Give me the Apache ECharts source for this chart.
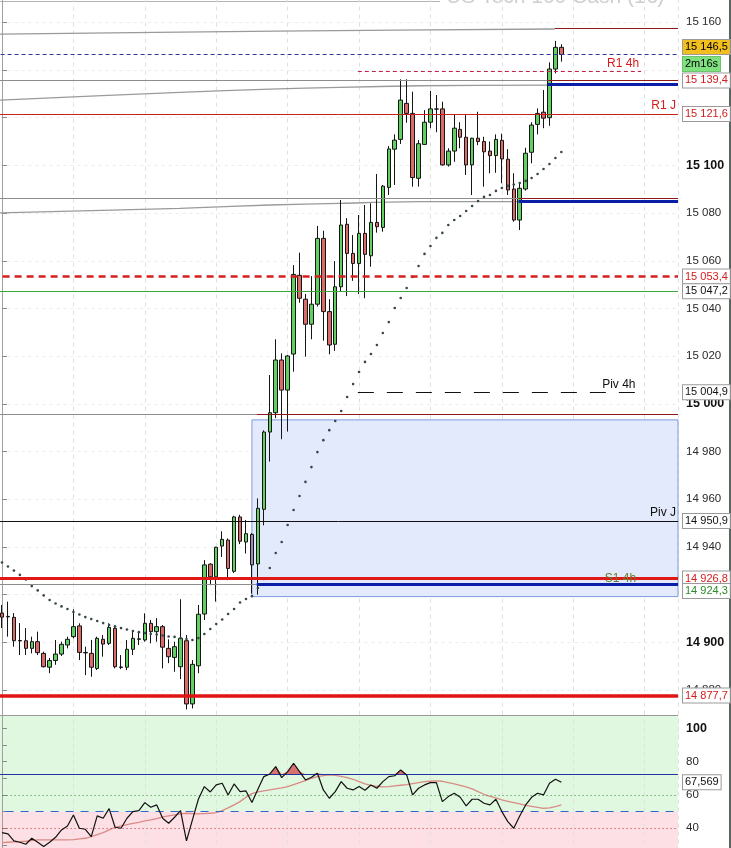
<!DOCTYPE html>
<html><head><meta charset="utf-8">
<script src="https://cdn.jsdelivr.net/npm/echarts@6/dist/echarts.min.js"></script>
<style>html,body{margin:0;padding:0;background:#fff;overflow:hidden}#c{width:731px;height:848px}</style>
</head><body><div id="c"></div>
<script>
// ---- data ----
const opens = [14912.3,14910.9,14910.5,14900.8,14900.7,14897.5,14900.3,14895.4,14889.6,14892.4,
14895.1,14898.9,14902.4,14906.9,14895.8,14895.4,14889.1,14901.3,14899.6,14905.9,
14889.7,14889.6,14897.1,14901.3,14901.0,14908.0,14904.5,14906.6,14897.5,14893.7,
14889.8,14900.7,14874.2,14890.2,14911.9,14932.8,14927.5,14940.4,14942.9,14929.8,
14952.6,14942.1,14945.3,14932.9,14955.8,14988.2,14996.3,15018.4,15005.8,15020.9,
15053.9,15043.9,15033.4,15041.8,15069.4,15038.7,15025.0,15049.1,15075.3,15063.1,
15058.9,15071.5,15062.1,15076.1,15074.0,15090.8,15106.8,15110.9,15126.0,15121.8,
15094.6,15108.8,15118.1,15123.7,15123.7,15100.2,15106.0,15115.1,15111.8,15100.2,
15111.4,15110.0,15106.0,15104.1,15110.5,15102.6,15090.1,15077.1,15090.1,15105.5,
15117.2,15122.3,15120.0,15140.4,15149.5];
const closes = [14910.6,14910.7,14900.7,14900.6,14897.5,14900.3,14895.7,14889.8,14892.4,14895.1,
14899.2,14901.3,14906.6,14895.8,14895.6,14889.6,14901.7,14899.3,14906.3,14889.8,
14889.5,14897.1,14901.7,14901.5,14908.0,14904.5,14906.6,14898.0,14894.0,14898.2,
14901.7,14874.2,14890.8,14911.8,14932.5,14927.5,14939.9,14943.2,14931.0,14952.6,
14942.4,14945.6,14932.5,14956.2,14988.2,14996.3,15018.4,15005.8,15020.1,15054.3,
15044.3,15033.4,15041.8,15069.4,15038.7,15024.7,15049.1,15075.0,15063.1,15058.9,
15071.5,15062.7,15076.1,15074.3,15091.3,15106.9,15110.6,15127.4,15121.8,15094.9,
15109.1,15118.1,15123.7,15123.6,15100.2,15106.0,15115.6,15111.8,15100.2,15111.4,
15110.0,15105.7,15104.1,15110.9,15102.7,15089.7,15077.1,15090.4,15105.1,15116.9,
15121.8,15119.8,15140.4,15149.5,15146.5];
const lows = [14906.0,14902.4,14898.2,14894.7,14894.7,14895.4,14894.7,14889.5,14887.1,14890.6,
14894.3,14897.5,14901.7,14892.6,14886.3,14885.6,14888.4,14894.0,14898.9,14889.1,
14888.8,14888.4,14894.7,14898.9,14900.3,14899.6,14900.3,14889.1,14891.3,14887.7,
14884.6,14871.9,14872.3,14887.1,14909.4,14924.0,14917.1,14935.8,14926.1,14929.1,
14941.2,14937.3,14920.5,14920.0,14949.1,14975.8,14994.0,14985.2,14988.4,15013.5,
15042.4,15019.8,15027.1,15040.8,15026.5,15020.8,15022.2,15047.3,15045.2,15051.6,
15046.1,15044.3,15057.5,15071.8,15072.2,15087.6,15091.8,15109.0,15117.9,15091.1,
15091.1,15108.6,15115.6,15113.9,15099.9,15099.5,15101.5,15107.2,15096.0,15087.6,
15108.5,15091.1,15096.7,15096.9,15092.5,15087.6,15076.4,15072.9,15089.4,15100.9,
15113.0,15115.6,15116.6,15138.6,15143.5];
const highs = [14915.7,14917.1,14912.3,14908.1,14906.0,14902.4,14904.5,14896.1,14893.5,14901.0,
14900.3,14902.4,14913.9,14908.0,14898.2,14901.0,14902.4,14903.1,14908.0,14906.6,
14894.7,14901.0,14905.2,14903.9,14912.2,14909.4,14910.2,14907.3,14901.3,14900.3,
14918.1,14903.1,14892.6,14915.7,14934.5,14933.2,14940.1,14946.6,14943.6,14953.1,
14953.5,14951.3,14945.8,14960.4,14988.9,15012.1,15027.1,15021.2,15020.5,15058.2,
15063.4,15046.1,15053.6,15074.6,15072.6,15043.9,15059.9,15085.5,15077.9,15070.8,
15079.2,15083.4,15084.1,15096.4,15091.8,15108.1,15113.0,15136.1,15136.1,15130.9,
15110.6,15123.2,15131.2,15129.5,15126.7,15107.2,15121.4,15118.1,15121.1,15111.6,
15122.5,15112.0,15110.0,15113.0,15113.3,15106.8,15096.7,15092.5,15107.4,15118.1,
15123.9,15131.6,15143.2,15152.2,15150.8];
const maDots = [14933.5,14931.8,14930.1,14928.3,14926.4,14923.6,14921.8,14919.7,14917.8,14916.3,
14915.1,14914.0,14912.7,14911.7,14910.6,14909.8,14909.0,14908.1,14907.3,14906.7,
14906.0,14905.4,14904.8,14904.3,14903.9,14903.5,14903.3,14902.9,14902.5,14902.3,
14901.8,14901.4,14901.0,14901.8,14903.5,14905.6,14907.7,14909.6,14911.9,14914.0,
14916.7,14918.2,14919.4,14922.8,14926.6,14931.2,14937.5,14942.1,14949.2,14955.5,
14961.4,14967.3,14973.5,14979.8,14984.8,14989.0,14992.8,14997.0,15002.9,15008.3,
15013.4,15017.6,15020.9,15024.7,15029.7,15034.3,15040.2,15044.4,15048.6,15053.2,
15057.8,15062.9,15066.2,15069.6,15071.7,15075.0,15077.1,15078.8,15080.9,15083.0,
15085.1,15086.8,15087.6,15089.3,15090.5,15091.4,15092.0,15092.6,15093.5,15094.7,
15096.4,15098.5,15100.6,15103.1,15105.6];
const rsiValues = [37.4,36.6,32.4,31.6,30.4,34.0,31.6,29.0,31.6,34.6,
39.0,41.4,48.0,40.0,39.4,35.0,47.4,46.0,51.8,40.6,
40.0,46.0,50.0,50.6,55.4,52.6,54.0,46.0,43.0,46.6,
50.6,32.4,45.0,57.4,65.0,61.8,66.0,67.0,60.0,66.6,
62.0,62.4,55.4,63.4,71.0,72.6,77.0,70.4,74.0,79.0,
74.0,69.0,70.6,73.0,63.0,58.0,62.0,68.0,64.0,63.0,
65.0,62.8,66.0,64.0,68.0,71.0,71.5,75.0,72.0,60.0,
64.0,66.0,67.4,67.4,56.0,59.0,61.0,58.6,53.4,57.4,
57.4,55.0,54.0,57.4,50.0,44.0,40.0,47.4,54.0,58.6,
61.0,60.0,67.0,69.4,67.57];
const rsiSignal = [31.4,31.6,31.8,31.9,32.2,32.6,33.0,33.0,33.0,33.0,
33.0,33.0,33.2,33.6,34.0,35.0,36.2,37.4,39.0,40.6,
41.4,42.2,43.0,43.6,44.4,45.0,45.8,46.8,47.4,48.0,
48.6,49.0,48.8,48.6,48.8,49.0,49.4,50.6,52.2,54.0,
56.0,58.6,60.8,61.8,62.4,63.0,63.6,64.2,65.0,66.2,
67.4,68.6,70.0,71.0,71.6,72.0,71.8,71.2,70.4,69.4,
68.0,66.6,65.8,65.2,64.8,65.0,65.4,65.8,66.2,66.8,
67.4,68.0,68.2,68.4,68.2,67.4,66.6,65.8,64.8,63.6,
62.0,60.4,59.2,58.2,57.0,56.2,55.4,54.6,53.8,53.2,
52.6,52.0,52.2,53.0,54.0];
const priceTicks = [14880,14900,14920,14940,14960,14980,15000,15020,15040,15060,15080,15100,15120,15140,15160];
const hiddenPriceLabels = [14920,15120,15140];
const rsiTicks = [30,40,50,60,70,80,90,100];
const rsiLabels = [40,60,80,100];
const tagPrices = [15146.5,15139.4,15121.6,15053.4,15047.2,15004.9,14950.9,14926.8,14924.3,14877.7];
const lastRsi = 67.569;
const timerText = '2m16s';
const rsiOverbought = 72.4;
const topCurve = [[-0.34,15155.0],[46,15156.3],[92.9,15157.2]];
const upperCurve = [[-0.34,15127.4],[29.9,15130.6],[45.0,15132.0],[56.8,15132.7],[70.3,15133.4],[91.8,15133.7]];
const lowerCurve = [[-0.34,15080.1],[29.9,15082.0],[45.0,15083.4],[56.8,15084.1],[70.3,15084.8],[86.7,15084.8]];
const boxRange = [42.0, 14993.3, 14919.2];

// ---- chart ----
const FONT = '"Liberation Sans", Arial, sans-serif';
const X0 = -12, X1 = 113.6;
const GREY = '#8c8c8c', MAROON = '#8b1a1a', BLUE = '#0b1ea8', RED = '#d41c1c';

function fmtPrice(p, d) {
  const s = d ? p.toFixed(d).replace('.', ',') : String(Math.round(p));
  return s.slice(0, 2) + ' ' + s.slice(2);
}
function hline(p, xa, xb, ls, label) {
  return [{coord: [xa, p], lineStyle: ls, label: label || {show: false}}, {coord: [xb, p]}];
}
function tag(p, text, color, bg, dy, border) {
  return hline(p, X0, X1, {color: 'rgba(0,0,0,0)', width: 0}, {
    show: true, position: 'end', distance: 5, formatter: text, color: color,
    backgroundColor: bg || '#fff', borderColor: border || '#9a9a9a', borderWidth: 1,
    padding: [1, 2, 1, 2], fontSize: 11, lineHeight: 12, fontFamily: FONT, offset: [0, dy || 0]
  });
}
function txt(t, color) {
  return {show: true, position: 'insideEndTop', distance: 2, formatter: t, color: color, fontSize: 12, fontFamily: FONT};
}

const tagColors = ['#000', RED, RED, RED, '#111', '#111', '#111', RED, '#2a8a2a', RED];
const tagOffsets = [-7.5, 9, 0, 0, 0, 0, 0, 0, 6.5, 0];

const mainLines = [
  hline(15157.5, 92.9, X1, {color: MAROON, width: 1.2, type: 'solid'}),
  hline(15146.5, X0, X1, {color: '#2b3a9e', width: 1, type: [4, 3]}),
  hline(15139.4, 59.8, 107.4, {color: '#c2264e', width: 1, type: [4, 3]}, txt('R1 4h', RED)),
  hline(15135.6, X0, 91.7, {color: GREY, width: 1.2, type: 'solid'}),
  hline(15135.6, 91.7, X1, {color: MAROON, width: 1.2, type: 'solid'}),
  hline(15133.9, 91.7, X1, {color: BLUE, width: 3, type: 'solid'}),
  hline(15121.6, X0, X1, {color: '#c8201e', width: 1, type: 'solid'}, txt('R1 J', RED)),
  hline(15086.2, X0, 86.8, {color: GREY, width: 1.2, type: 'solid'}),
  hline(15086.2, 86.8, X1, {color: MAROON, width: 1.2, type: 'solid'}),
  hline(15084.8, 86.8, X1, {color: BLUE, width: 3, type: 'solid'}),
  hline(15053.4, X0, X1, {color: '#d42020', width: 2.5, type: [7, 5]}),
  hline(15047.2, X0, X1, {color: '#3aa63a', width: 1, type: 'solid'}),
  hline(15004.9, 59.8, 106.8, {color: '#111', width: 1, type: [16, 13]}, txt('Piv 4h', '#111')),
  hline(14995.6, X0, 42.8, {color: GREY, width: 1, type: 'solid'}),
  hline(14995.6, 42.8, X1, {color: MAROON, width: 1.2, type: 'solid'}),
  hline(14950.9, X0, X1, {color: '#111', width: 1, type: 'solid'}, txt('Piv J', '#111')),
  hline(14924.3, X0, 42.8, {color: GREY, width: 1, type: 'solid'}),
  hline(14924.3, 42.8, X1, {color: BLUE, width: 3, type: 'solid'}),
  hline(14926.8, X0, X1, {color: '#e01818', width: 3, type: 'solid'}),
  hline(14926.8, 59.8, 107.4, {color: 'rgba(0,0,0,0)', width: 0}, {show: true, position: 'insideEnd', formatter: 'S1 4h', color: '#6b7d2a', fontSize: 12, fontFamily: FONT}),
  hline(14877.7, X0, X1, {color: '#e01414', width: 3.5, type: 'solid'})
];
tagPrices.forEach((p, i) => {
  mainLines.push(tag(p, fmtPrice(p, 1), tagColors[i], i === 0 ? '#f2bf1f' : '#fff', tagOffsets[i]));
});
mainLines.push(tag(tagPrices[0], timerText, '#000', '#7fe07f', 9.5, '#6cc46c'));

const candleData = opens.map((o, i) => {
  const v = [i, o, closes[i], lows[i], highs[i]];
  return i === boxRange[0] ? {value: v, itemStyle: {color0: '#a08cb8'}} : v;
});

const chart = echarts.init(document.getElementById('c'), null, {renderer: 'canvas'});
const xCommon = {
  type: 'value', min: X0, max: X1, interval: 12,
  axisLine: {show: false}, axisTick: {show: false}, axisLabel: {show: false},
  splitLine: {show: true, lineStyle: {color: '#e0e0e0', type: [4, 4], width: 1}}
};
const option = {
  animation: false,
  backgroundColor: '#fff',
  textStyle: {fontFamily: FONT},
  grid: [
    {left: -69.4, width: 747.4, top: -25.4, height: 763.2, containLabel: false, outerBoundsMode: 'none'},
    {left: -69.4, width: 747.4, top: 711.6, height: 150, containLabel: false, outerBoundsMode: 'none'}
  ],
  xAxis: [
    Object.assign({gridIndex: 0}, xCommon),
    Object.assign({gridIndex: 1, z: 2}, xCommon)
  ],
  yAxis: [
    {
      gridIndex: 0, type: 'value', position: 'right', min: 14860, max: 15180, interval: 20,
      axisLine: {show: true, lineStyle: {color: '#a0a0a0'}},
      axisTick: {show: true, length: 5, lineStyle: {color: '#8a8a8a'}, customValues: priceTicks},
      axisLabel: {
        margin: 8, fontSize: 11.5, color: '#2a2a2a', fontFamily: FONT,
        customValues: priceTicks.filter(v => hiddenPriceLabels.indexOf(v) < 0),
        formatter: v => {
          if (v < 14870 || v > 15170 || hiddenPriceLabels.indexOf(v) >= 0) return '';
          const s = fmtPrice(v);
          return v % 100 === 0 ? '{b|' + s + '}' : s;
        },
        rich: {b: {fontWeight: 'bold', fontSize: 12.5, color: '#111', fontFamily: FONT}}
      },
      splitLine: {show: true, lineStyle: {color: '#ececec', type: [3, 4]}}
    },
    {
      gridIndex: 1, type: 'value', position: 'right', min: 20, max: 110, interval: 10, z: 2,
      axisLine: {show: true, lineStyle: {color: '#a0a0a0'}},
      axisTick: {show: true, length: 5, lineStyle: {color: '#8a8a8a'}, customValues: rsiTicks},
      axisLabel: {
        margin: 8, fontSize: 11.5, color: '#2a2a2a', fontFamily: FONT, customValues: rsiLabels,
        formatter: v => rsiLabels.indexOf(v) < 0 ? '' : (v === 100 ? '{b|100}' : String(v)),
        rich: {b: {fontWeight: 'bold', fontSize: 12.5, color: '#111', fontFamily: FONT}}
      },
      splitLine: {show: false}
    }
  ],
  graphic: [
    {type: 'text', x: 446, y: -13, silent: true,
     style: {text: 'US Tech 100 Cash (1€)', fill: '#cfcfcf', font: '21px "Liberation Sans", Arial, sans-serif'}},
    {type: 'line', silent: true, shape: {x1: 0, y1: 1.5, x2: 440, y2: 1.5}, style: {stroke: '#b4b4b4', lineWidth: 1}},
    {type: 'rect', silent: true, shape: {x: 729, y: 0, width: 2, height: 848}, style: {fill: '#5b6660'}}
  ],
  series: [
    {
      type: 'line', xAxisIndex: 0, yAxisIndex: 0, data: [], z: 1, silent: true,
      markArea: {silent: true, data: [[
        {coord: [boxRange[0], boxRange[1]], itemStyle: {color: '#e3eafb', borderColor: '#7d9be0', borderWidth: 1}},
        {coord: [X1, boxRange[2]]}
      ]]}
    },
    {
      type: 'line', xAxisIndex: 0, yAxisIndex: 0, data: topCurve, smooth: 0.3, showSymbol: false, symbol: 'none',
      lineStyle: {color: '#9a9a9a', width: 1.3}, z: 2, silent: true
    },
    {
      type: 'line', xAxisIndex: 0, yAxisIndex: 0, data: upperCurve, smooth: 0.3, showSymbol: false, symbol: 'none',
      lineStyle: {color: '#9a9a9a', width: 1.3}, z: 2, silent: true
    },
    {
      type: 'line', xAxisIndex: 0, yAxisIndex: 0, data: lowerCurve, smooth: 0.3, showSymbol: false, symbol: 'none',
      lineStyle: {color: '#9a9a9a', width: 1.3}, z: 2, silent: true
    },
    {
      type: 'candlestick', xAxisIndex: 0, yAxisIndex: 0, data: candleData, clip: false,
      encode: {x: 0, y: [1, 2, 3, 4]}, barWidth: 4, z: 3, silent: true,
      itemStyle: {color: '#62cf62', color0: '#d96b68', borderColor: '#151515', borderColor0: '#151515', borderWidth: 1},
      markLine: {silent: true, symbol: ['none', 'none'], label: {show: false}, data: mainLines}
    },
    {
      type: 'line', xAxisIndex: 0, yAxisIndex: 0, data: maDots.map((v, i) => [i, v]),
      symbol: 'circle', symbolSize: 2.6, showSymbol: true, showAllSymbol: true,
      itemStyle: {color: '#38474a'}, lineStyle: {width: 0, opacity: 0}, z: 4, silent: true
    },
    {
      type: 'line', xAxisIndex: 1, yAxisIndex: 1, data: [], z: 1, silent: true, clip: false,
      markArea: {silent: true, data: [
        [{yAxis: 50, itemStyle: {color: '#e0f7e0'}}, {yAxis: 108}],
        [{yAxis: 20, itemStyle: {color: '#fde0e6'}}, {yAxis: 50}]
      ]},
      markLine: {silent: true, symbol: ['none', 'none'], label: {show: false}, data: [
        {yAxis: 108, lineStyle: {color: '#9a9a9a', width: 1, type: 'solid'}},
        {yAxis: rsiOverbought, lineStyle: {color: '#2233aa', width: 1.2, type: 'solid'}},
        {yAxis: 60, lineStyle: {color: '#3a8a3a', width: 1, type: [1, 3]}},
        {yAxis: 50, lineStyle: {color: '#3366cc', width: 1.2, type: [8, 7]}},
        {yAxis: 40, lineStyle: {color: '#c03030', width: 1, type: [1, 3]}},
        {yAxis: lastRsi, lineStyle: {color: 'rgba(0,0,0,0)', width: 0}, label: {
          show: true, position: 'end', distance: 5, formatter: lastRsi.toFixed(3).replace('.', ','),
          color: '#111', backgroundColor: '#fff', borderColor: '#9a9a9a', borderWidth: 1,
          padding: [1, 2, 1, 2], fontSize: 11, lineHeight: 12, fontFamily: FONT}}
      ]}
    },
    {
      type: 'line', xAxisIndex: 1, yAxisIndex: 1, z: 3, silent: true,
      data: rsiValues.map((v, i) => [i, Math.max(v, rsiOverbought)]),
      showSymbol: false, symbol: 'none', lineStyle: {width: 0, opacity: 0},
      areaStyle: {color: '#d9706e', opacity: 1, origin: rsiOverbought}
    },
    {
      type: 'line', xAxisIndex: 1, yAxisIndex: 1, z: 4, silent: true,
      data: rsiSignal.map((v, i) => [i, v]), showSymbol: false, symbol: 'none',
      lineStyle: {color: '#d98b84', width: 1.3}
    },
    {
      type: 'line', xAxisIndex: 1, yAxisIndex: 1, z: 5, silent: true,
      data: rsiValues.map((v, i) => [i, v]), showSymbol: false, symbol: 'none',
      lineStyle: {color: '#111', width: 1.2}
    }
  ]
};
chart.setOption(option);
</script>
</body></html>
